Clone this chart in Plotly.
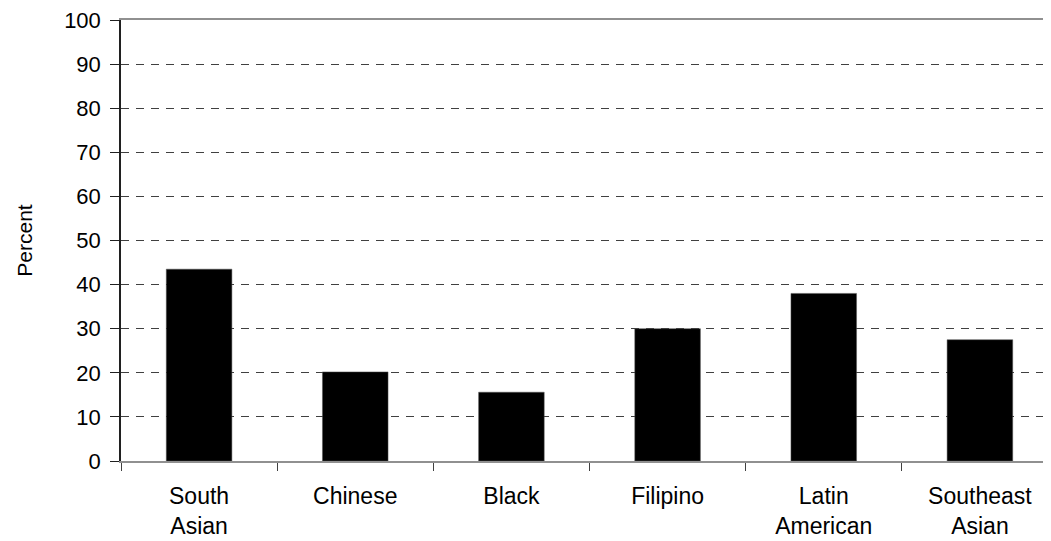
import plotly.graph_objects as go

categories = ["South<br>Asian", "Chinese", "Black", "Filipino", "Latin<br>American", "Southeast<br>Asian"]
values = [43.5, 20.2, 15.6, 30.0, 38.0, 27.5]
y_ticks = [0, 10, 20, 30, 40, 50, 60, 70, 80, 90, 100]

fig = go.Figure()
fig.add_trace(go.Bar(
    x=categories, y=values,
    marker=dict(color="black", line=dict(color="#555555", width=0.5)),
    width=0.42,
))

fig.update_layout(
    width=1051, height=541,
    margin=dict(l=113, r=1, t=12, b=87.5),
    plot_bgcolor="white", paper_bgcolor="white",
    font=dict(family="Liberation Sans, Arial, sans-serif", size=22, color="black"),
    showlegend=False,
)
fig.update_xaxes(
    range=[-0.5, 5.5],
    automargin=False,
    showline=True, linecolor="#909090", linewidth=2, mirror=True,
    ticks="outside", tickson="boundaries", ticklen=8, tickcolor="#404040", tickwidth=1,
    showgrid=False,
    tickfont=dict(size=23),
    ticklabelstandoff=13,
    ticklabeloverflow="allow",
)
fig.update_yaxes(
    range=[0, 100],
    automargin=False,
    tickvals=y_ticks,
    showline=True, linecolor="#202020", linewidth=1.5,
    ticks="outside", ticklen=9, tickcolor="#202020",
    showgrid=True, gridcolor="#404040", gridwidth=1, griddash="8px,7px",
    tickfont=dict(size=22),
    ticklabelstandoff=5,
    ticklabeloverflow="allow",
    title=dict(text="Percent", font=dict(size=21), standoff=26),
    zeroline=False,
)
fig.write_html("out.html")
